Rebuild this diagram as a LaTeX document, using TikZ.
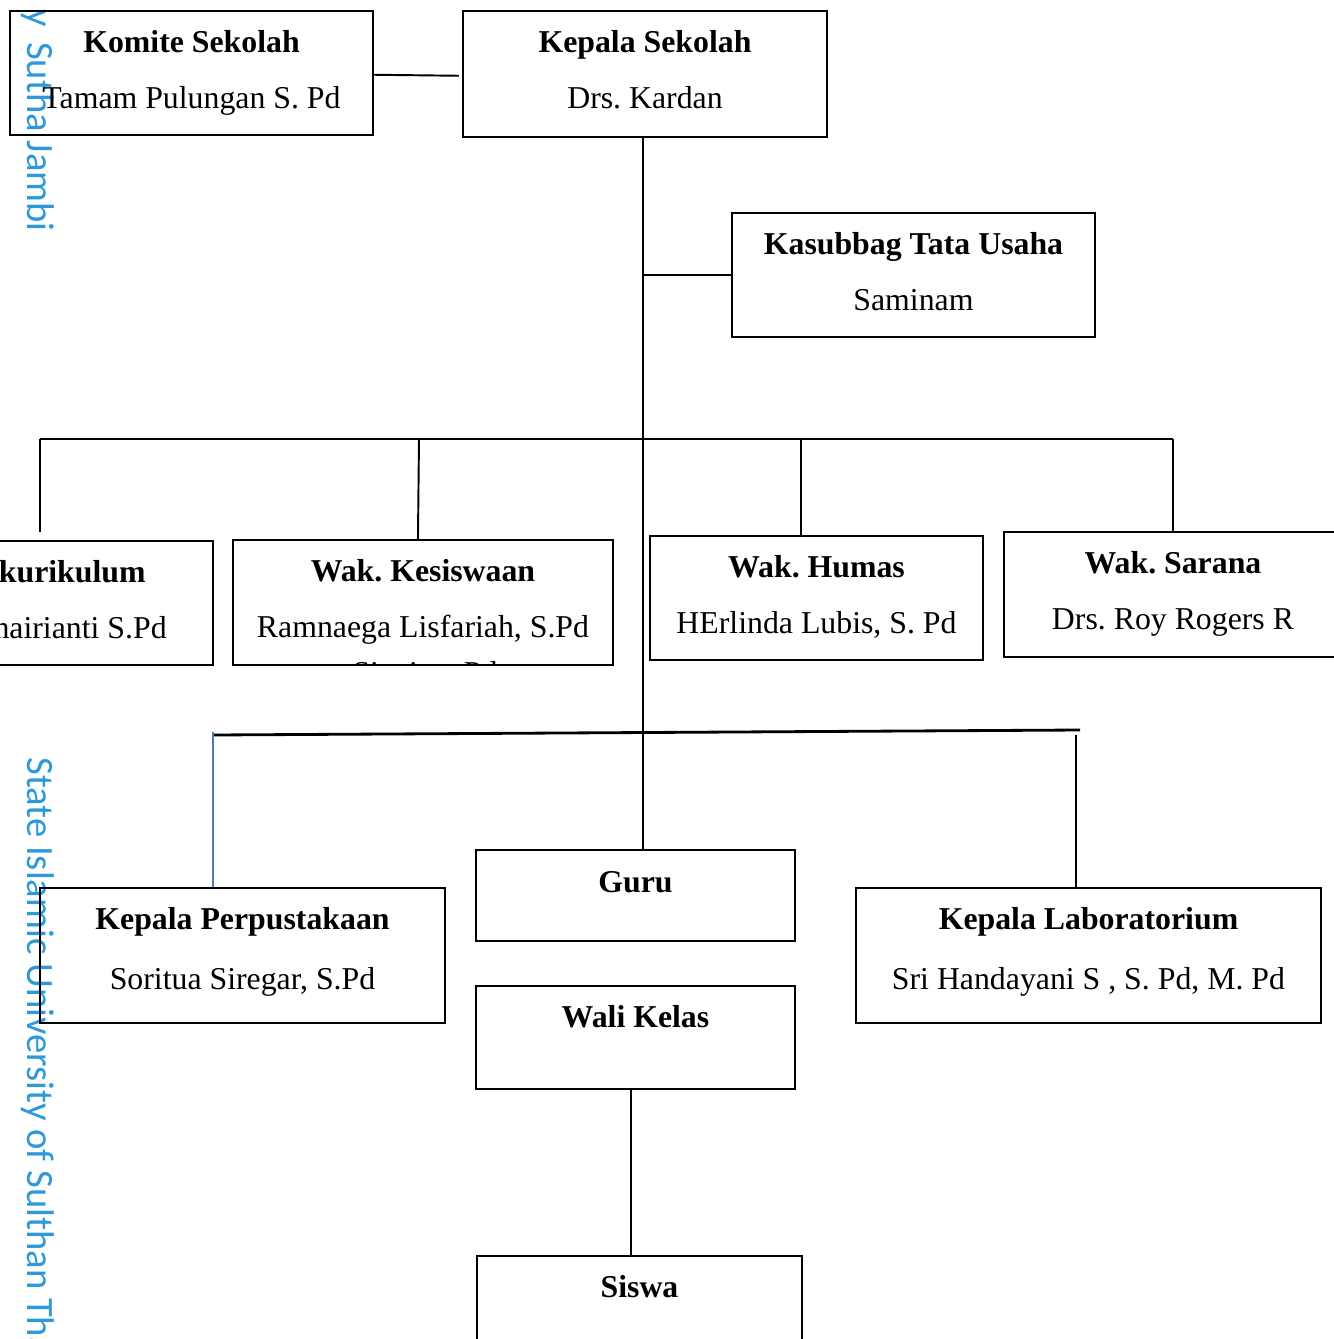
\documentclass[tikz,border=0pt]{standalone}
\usepackage{fontspec}
\setmainfont{Liberation Serif}
\newfontfamily\wmfont{Carlito}
\usetikzlibrary{fit}
\definecolor{wmblue}{RGB}{45,152,218}
\definecolor{lineblue}{RGB}{74,126,187}
\frenchspacing
\begin{document}
\frenchspacing
\begin{tikzpicture}[x=0.02cm,y=-0.02cm,
  box/.style={draw, line width=0.8pt, inner sep=0pt},
  ttl/.style={font=\fontsize{18.1}{22}\selectfont\bfseries\frenchspacing, anchor=base, inner sep=0pt},
  nm/.style={font=\fontsize{18.1}{22}\selectfont\frenchspacing, anchor=base, inner sep=0pt},
  conn/.style={line width=1.1pt},
  bus/.style={line width=1.6pt},
  wm/.style={font=\wmfont\fontsize{22}{26}\selectfont, text=wmblue, rotate=-90, inner sep=0pt}]
\useasboundingbox[fill=white] (0,0) rectangle (1334,1339);

% watermark
\node[wm, anchor=base east] (wmTop) at (28,232) {y \,Sutha Jambi};
\node[wm, anchor=base west] (wmBot) at (28,757) {State Islamic University of Sulthan Thaha Saifuddin Jambi};

% boxes
\node[box, fit={(10,11)(373,135)}] (komite) {};
\node[ttl] (komiteT) at (191.5,52) {Komite Sekolah};
\node[nm] (komiteN) at (191.5,108) {Tamam Pulungan S. Pd};

\node[box, fit={(463,11)(827,137)}] (kepala) {};
\node[ttl] (kepalaT) at (645,52) {Kepala Sekolah};
\node[nm] (kepalaN) at (645,108) {Drs. Kardan};

\node[box, fit={(732,213)(1095,337)}] (tu) {};
\node[ttl] (tuT) at (913.5,254) {Kasubbag Tata Usaha};
\node[nm] (tuN) at (913.5,310) {Saminam};

\node[box, fit={(-170,541)(213,665)}] (kur) {};
\node[ttl, anchor=base east] (kurT) at (146,582) {Wak. kurikulum};
\node[nm, anchor=base east] (kurN) at (167,638) {Khairianti S.Pd};

\node[box, fit={(233,540)(613,665)}] (kes) {};
\node[ttl] (kesT) at (423,581) {Wak. Kesiswaan};
\node[nm] (kesN) at (423,637) {Ramnaega Lisfariah, S.Pd};
\begin{scope}
  \clip (233,540) rectangle (613,664);
  \node[nm] (kesX) at (425,683) {Siagian, Pd};
\end{scope}

\node[box, fit={(650,536)(983,660)}] (hum) {};
\node[ttl] (humT) at (816.5,577) {Wak. Humas};
\node[nm] (humN) at (816.5,633) {HErlinda Lubis, S. Pd};

\node[box, fit={(1004,532)(1342,657)}] (sar) {};
\node[ttl] (sarT) at (1173,573) {Wak. Sarana};
\node[nm] (sarN) at (1173,629) {Drs. Roy Rogers R};

\node[box, fit={(40,888)(445,1023)}] (perp) {};
\node[ttl] (perpT) at (242.5,929) {Kepala Perpustakaan};
\node[nm] (perpN) at (242.5,989) {Soritua Siregar, S.Pd};

\node[box, fit={(476,850)(795,941)}] (guru) {};
\node[ttl] (guruT) at (635.5,892) {Guru};

\node[box, fit={(476,986)(795,1089)}] (wali) {};
\node[ttl] (waliT) at (635.5,1027) {Wali Kelas};

\node[box, fit={(856,888)(1321,1023)}] (lab) {};
\node[ttl] (labT) at (1088.5,929) {Kepala Laboratorium};
\node[nm] (labN) at (1088.5,989) {Sri Handayani S , S. Pd, M. Pd};

\node[box, fit={(477,1256)(802,1360)}] (siswa) {};
\node[ttl] (siswaT) at (639.5,1297) {Siswa};

% connectors
\coordinate (trunk) at (643,137);
\coordinate (busL) at (40,439);
\coordinate (busR) at (1173,439);
\coordinate (kesD) at (419,439);
\coordinate (humD) at (801,439);
\coordinate (lbL) at (213,735);
\coordinate (lbR) at (1080,730);
\coordinate (labD) at (1076,735);
\coordinate (waliD) at (631,1089);

\draw[conn] ([yshift=-1pt]komite.east) -- ([xshift=-2pt,yshift=-1pt]kepala.west);
\draw[conn] (trunk) -- (trunk |- guru.north);
\draw[conn] (tu.west) -- (tu.west -| trunk);
\draw[bus] (busL) -- (busR);
\draw[conn, shorten >=4.5pt] (busL) -- (busL |- kur.north);
\draw[conn] (kesD) -- ([xshift=-0.6pt]kesD |- kes.north);
\draw[conn] (humD) -- (humD |- hum.north);
\draw[conn] (busR) -- (busR |- sar.north);
\draw[bus] (lbL) -- (lbR);
\draw[line width=0.8pt, lineblue] ([yshift=1.5pt]lbL) -- (lbL |- perp.north);
\draw[conn] (labD) -- (labD |- lab.north);
\draw[conn] (waliD) -- (waliD |- siswa.north);
\end{tikzpicture}
\end{document}
